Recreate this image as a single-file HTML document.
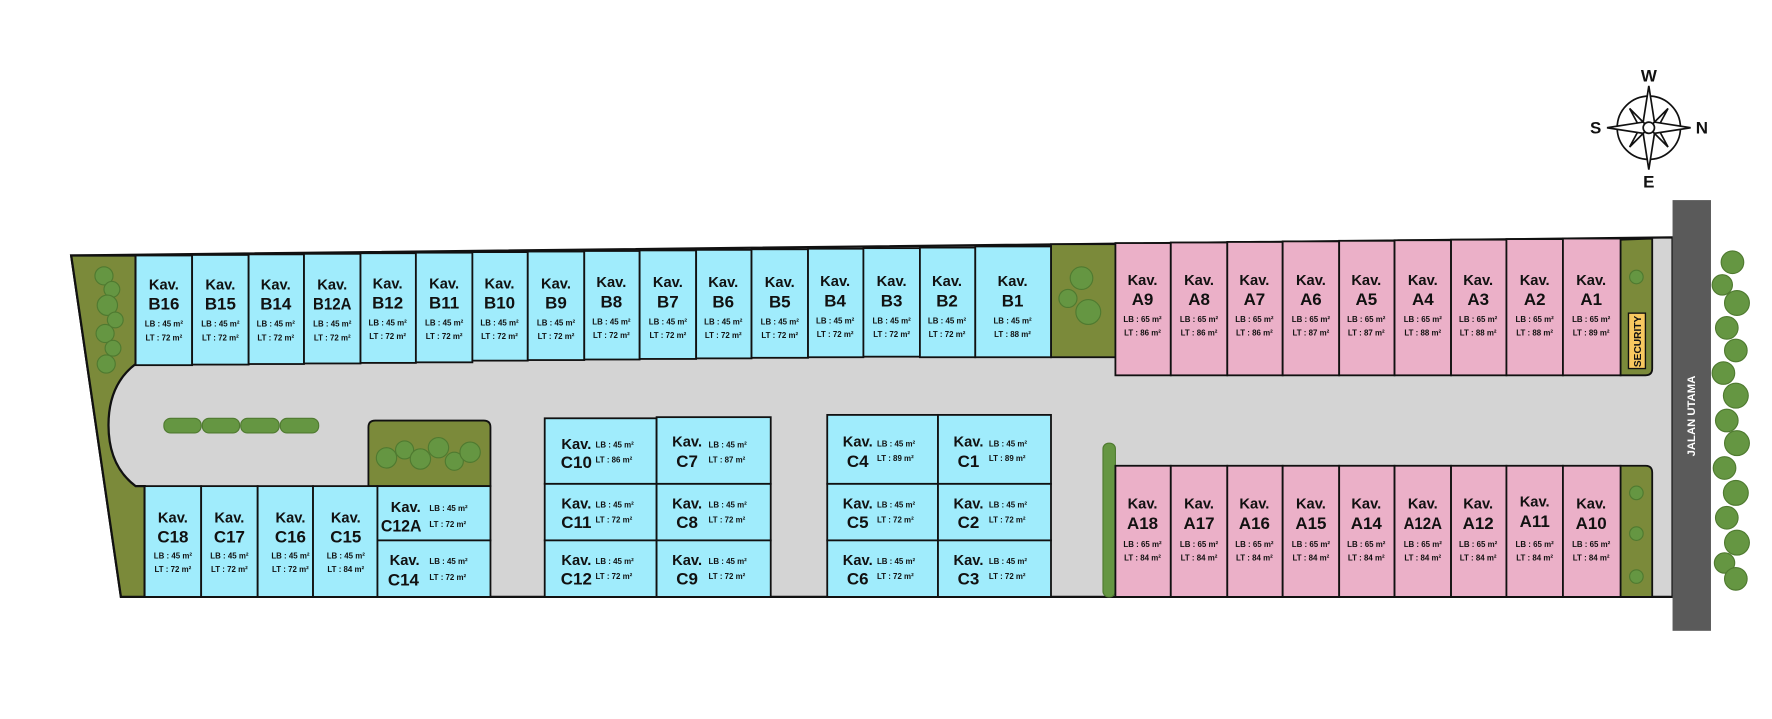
<!DOCTYPE html>
<html><head><meta charset="utf-8"><style>
html,body{margin:0;padding:0;background:#fff;}
svg{display:block;}
text{font-family:"Liberation Sans Narrow","Liberation Sans",sans-serif;font-weight:bold;fill:#111;}
.k{font-size:13px;text-anchor:middle;}
.i{font-size:15px;text-anchor:middle;}
.s{font-size:7px;text-anchor:middle;}
.l{font-size:7px;}
.b rect,rect.b{fill:#a0ecfc;stroke:#111;stroke-width:1.6;}
.p rect,rect.p{fill:#ebb0c8;stroke:#111;stroke-width:1.6;}
.tr circle{fill:#659642;stroke:#4f7a30;stroke-width:1;}
</style></head><body>
<svg width="1772" height="719" viewBox="0 0 1568 636" preserveAspectRatio="none" xmlns="http://www.w3.org/2000/svg">
<polygon points="63,226 1480,210 1480,528 107,528" fill="#d4d4d4" stroke="#111" stroke-width="2"/>
<path d="M63,226 L120,226 L120,322 Q96,340 96,376 Q96,412 120,430 L128,430 L128,528 L107,528 Z" fill="#7b8a3a" stroke="#111" stroke-width="2"/>
<rect x="930" y="216" width="57" height="100" fill="#7b8a3a" stroke="#111" stroke-width="1.6"/>
<path d="M326,430 L326,378 Q326,372 332,372 L428,372 Q434,372 434,378 L434,430 Z" fill="#7b8a3a" stroke="#111" stroke-width="1.6"/>
<path d="M1434,212 L1462,211 L1462,326 Q1462,332 1456,332 L1434,332 Z" fill="#7b8a3a" stroke="#111" stroke-width="1.6"/>
<path d="M1434,528 L1434,412 L1456,412 Q1462,412 1462,418 L1462,528 Z" fill="#7b8a3a" stroke="#111" stroke-width="1.6"/>
<rect x="1441" y="277" width="15" height="49" fill="#f8c860" stroke="#111" stroke-width="1.2"/>
<text transform="translate(1452,302) rotate(-90)" style="font-size:9px;text-anchor:middle;">SECURITY</text>
<rect x="1480" y="177" width="34" height="381" fill="#5a5a5a"/>
<text transform="translate(1500,368) rotate(-90)" style="font-size:10px;text-anchor:middle;fill:#fff;">JALAN UTAMA</text>

<g class="tr">
<circle cx="92" cy="244" r="8"/><circle cx="99" cy="256" r="7"/><circle cx="95" cy="270" r="9"/><circle cx="102" cy="283" r="7"/><circle cx="93" cy="295" r="8"/><circle cx="100" cy="308" r="7"/><circle cx="94" cy="322" r="8"/>
<circle cx="957" cy="246" r="10"/><circle cx="945" cy="264" r="8"/><circle cx="963" cy="276" r="11"/>
<circle cx="342" cy="405" r="9"/><circle cx="358" cy="398" r="8"/><circle cx="372" cy="406" r="9"/><circle cx="388" cy="396" r="9"/><circle cx="402" cy="408" r="8"/><circle cx="416" cy="400" r="9"/>
<circle cx="1448" cy="245" r="6"/><circle cx="1448" cy="436" r="6"/><circle cx="1448" cy="472" r="6"/><circle cx="1448" cy="510" r="6"/>
</g>
<g fill="#659642" stroke="#4f7a30">
<rect x="145" y="370" width="33" height="13" rx="6"/><rect x="179" y="370" width="33" height="13" rx="6"/><rect x="213" y="370" width="34" height="13" rx="6"/><rect x="248" y="370" width="34" height="13" rx="6"/>
<rect x="976" y="392" width="11" height="136" rx="5"/>
</g>
<g class="tr">
<circle cx="1533" cy="232" r="10"/><circle cx="1524" cy="252" r="9"/><circle cx="1537" cy="268" r="11"/><circle cx="1528" cy="290" r="10"/><circle cx="1536" cy="310" r="10"/><circle cx="1525" cy="330" r="10"/><circle cx="1536" cy="350" r="11"/><circle cx="1528" cy="372" r="10"/><circle cx="1537" cy="392" r="11"/><circle cx="1526" cy="414" r="10"/><circle cx="1536" cy="436" r="11"/><circle cx="1528" cy="458" r="10"/><circle cx="1537" cy="480" r="11"/><circle cx="1526" cy="498" r="9"/><circle cx="1536" cy="512" r="10"/>
</g>

<g class="b">
<rect x="120" y="226" width="50" height="97"/><rect x="170" y="225.5" width="50" height="97"/><rect x="220" y="225" width="49" height="97"/><rect x="269" y="224.5" width="50" height="97"/><rect x="319" y="224" width="49" height="97"/><rect x="368" y="223.5" width="50" height="97"/><rect x="418" y="223" width="49" height="96"/><rect x="467" y="222.5" width="50" height="96"/><rect x="517" y="222" width="49" height="96"/><rect x="566" y="221.5" width="50" height="96"/><rect x="616" y="221" width="49" height="96"/><rect x="665" y="220.5" width="50" height="96"/><rect x="715" y="220" width="49" height="96"/><rect x="764" y="219.5" width="50" height="96"/><rect x="814" y="219" width="49" height="97"/><rect x="863" y="218" width="67" height="98"/>
</g>
<g>
<text class="k" x="145" y="256">Kav.</text><text class="i" x="145" y="274">B16</text><text class="s" x="145" y="289">LB : 45 m²</text><text class="s" x="145" y="301">LT : 72 m²</text>
<text class="k" x="195" y="256">Kav.</text><text class="i" x="195" y="274">B15</text><text class="s" x="195" y="289">LB : 45 m²</text><text class="s" x="195" y="301">LT : 72 m²</text>
<text class="k" x="244" y="256">Kav.</text><text class="i" x="244" y="274">B14</text><text class="s" x="244" y="289">LB : 45 m²</text><text class="s" x="244" y="301">LT : 72 m²</text>
<text class="k" x="294" y="256">Kav.</text><text class="i" x="294" y="274" textLength="34" lengthAdjust="spacingAndGlyphs">B12A</text><text class="s" x="294" y="289">LB : 45 m²</text><text class="s" x="294" y="301">LT : 72 m²</text>
<text class="k" x="343" y="255">Kav.</text><text class="i" x="343" y="273">B12</text><text class="s" x="343" y="288">LB : 45 m²</text><text class="s" x="343" y="300">LT : 72 m²</text>
<text class="k" x="393" y="255">Kav.</text><text class="i" x="393" y="273">B11</text><text class="s" x="393" y="288">LB : 45 m²</text><text class="s" x="393" y="300">LT : 72 m²</text>
<text class="k" x="442" y="255">Kav.</text><text class="i" x="442" y="273">B10</text><text class="s" x="442" y="288">LB : 45 m²</text><text class="s" x="442" y="300">LT : 72 m²</text>
<text class="k" x="492" y="255">Kav.</text><text class="i" x="492" y="273">B9</text><text class="s" x="492" y="288">LB : 45 m²</text><text class="s" x="492" y="300">LT : 72 m²</text>
<text class="k" x="541" y="254">Kav.</text><text class="i" x="541" y="272">B8</text><text class="s" x="541" y="287">LB : 45 m²</text><text class="s" x="541" y="299">LT : 72 m²</text>
<text class="k" x="591" y="254">Kav.</text><text class="i" x="591" y="272">B7</text><text class="s" x="591" y="287">LB : 45 m²</text><text class="s" x="591" y="299">LT : 72 m²</text>
<text class="k" x="640" y="254">Kav.</text><text class="i" x="640" y="272">B6</text><text class="s" x="640" y="287">LB : 45 m²</text><text class="s" x="640" y="299">LT : 72 m²</text>
<text class="k" x="690" y="254">Kav.</text><text class="i" x="690" y="272">B5</text><text class="s" x="690" y="287">LB : 45 m²</text><text class="s" x="690" y="299">LT : 72 m²</text>
<text class="k" x="739" y="253">Kav.</text><text class="i" x="739" y="271">B4</text><text class="s" x="739" y="286">LB : 45 m²</text><text class="s" x="739" y="298">LT : 72 m²</text>
<text class="k" x="789" y="253">Kav.</text><text class="i" x="789" y="271">B3</text><text class="s" x="789" y="286">LB : 45 m²</text><text class="s" x="789" y="298">LT : 72 m²</text>
<text class="k" x="838" y="253">Kav.</text><text class="i" x="838" y="271">B2</text><text class="s" x="838" y="286">LB : 45 m²</text><text class="s" x="838" y="298">LT : 72 m²</text>
<text class="k" x="896" y="253">Kav.</text><text class="i" x="896" y="271">B1</text><text class="s" x="896" y="286">LB : 45 m²</text><text class="s" x="896" y="298">LT : 88 m²</text>
</g>

<g class="p">
<rect x="987" y="215" width="49" height="117"/><rect x="1036" y="214.5" width="50" height="117.5"/><rect x="1086" y="214" width="49" height="118"/><rect x="1135" y="213.5" width="50" height="118.5"/><rect x="1185" y="213" width="49" height="119"/><rect x="1234" y="212.5" width="50" height="119.5"/><rect x="1284" y="212" width="49" height="120"/><rect x="1333" y="211.5" width="50" height="120.5"/><rect x="1383" y="211" width="51" height="121"/>
</g>
<g>
<text class="k" x="1011" y="252">Kav.</text><text class="i" x="1011" y="270">A9</text><text class="s" x="1011" y="285">LB : 65 m²</text><text class="s" x="1011" y="297">LT : 86 m²</text>
<text class="k" x="1061" y="252">Kav.</text><text class="i" x="1061" y="270">A8</text><text class="s" x="1061" y="285">LB : 65 m²</text><text class="s" x="1061" y="297">LT : 86 m²</text>
<text class="k" x="1110" y="252">Kav.</text><text class="i" x="1110" y="270">A7</text><text class="s" x="1110" y="285">LB : 65 m²</text><text class="s" x="1110" y="297">LT : 86 m²</text>
<text class="k" x="1160" y="252">Kav.</text><text class="i" x="1160" y="270">A6</text><text class="s" x="1160" y="285">LB : 65 m²</text><text class="s" x="1160" y="297">LT : 87 m²</text>
<text class="k" x="1209" y="252">Kav.</text><text class="i" x="1209" y="270">A5</text><text class="s" x="1209" y="285">LB : 65 m²</text><text class="s" x="1209" y="297">LT : 87 m²</text>
<text class="k" x="1259" y="252">Kav.</text><text class="i" x="1259" y="270">A4</text><text class="s" x="1259" y="285">LB : 65 m²</text><text class="s" x="1259" y="297">LT : 88 m²</text>
<text class="k" x="1308" y="252">Kav.</text><text class="i" x="1308" y="270">A3</text><text class="s" x="1308" y="285">LB : 65 m²</text><text class="s" x="1308" y="297">LT : 88 m²</text>
<text class="k" x="1358" y="252">Kav.</text><text class="i" x="1358" y="270">A2</text><text class="s" x="1358" y="285">LB : 65 m²</text><text class="s" x="1358" y="297">LT : 88 m²</text>
<text class="k" x="1408" y="252">Kav.</text><text class="i" x="1408" y="270">A1</text><text class="s" x="1408" y="285">LB : 65 m²</text><text class="s" x="1408" y="297">LT : 89 m²</text>
</g>

<g class="p">
<rect x="987" y="412" width="49" height="116"/><rect x="1036" y="412" width="50" height="116"/><rect x="1086" y="412" width="49" height="116"/><rect x="1135" y="412" width="50" height="116"/><rect x="1185" y="412" width="49" height="116"/><rect x="1234" y="412" width="50" height="116"/><rect x="1284" y="412" width="49" height="116"/><rect x="1333" y="412" width="50" height="116"/><rect x="1383" y="412" width="51" height="116"/>
</g>
<g>
<text class="k" x="1011" y="450">Kav.</text><text class="i" x="1011" y="468">A18</text><text class="s" x="1011" y="484">LB : 65 m²</text><text class="s" x="1011" y="496">LT : 84 m²</text>
<text class="k" x="1061" y="450">Kav.</text><text class="i" x="1061" y="468">A17</text><text class="s" x="1061" y="484">LB : 65 m²</text><text class="s" x="1061" y="496">LT : 84 m²</text>
<text class="k" x="1110" y="450">Kav.</text><text class="i" x="1110" y="468">A16</text><text class="s" x="1110" y="484">LB : 65 m²</text><text class="s" x="1110" y="496">LT : 84 m²</text>
<text class="k" x="1160" y="450">Kav.</text><text class="i" x="1160" y="468">A15</text><text class="s" x="1160" y="484">LB : 65 m²</text><text class="s" x="1160" y="496">LT : 84 m²</text>
<text class="k" x="1209" y="450">Kav.</text><text class="i" x="1209" y="468">A14</text><text class="s" x="1209" y="484">LB : 65 m²</text><text class="s" x="1209" y="496">LT : 84 m²</text>
<text class="k" x="1259" y="450">Kav.</text><text class="i" x="1259" y="468" textLength="34" lengthAdjust="spacingAndGlyphs">A12A</text><text class="s" x="1259" y="484">LB : 65 m²</text><text class="s" x="1259" y="496">LT : 84 m²</text>
<text class="k" x="1308" y="450">Kav.</text><text class="i" x="1308" y="468">A12</text><text class="s" x="1308" y="484">LB : 65 m²</text><text class="s" x="1308" y="496">LT : 84 m²</text>
<text class="k" x="1358" y="448">Kav.</text><text class="i" x="1358" y="466">A11</text><text class="s" x="1358" y="484">LB : 65 m²</text><text class="s" x="1358" y="496">LT : 84 m²</text>
<text class="k" x="1408" y="450">Kav.</text><text class="i" x="1408" y="468">A10</text><text class="s" x="1408" y="484">LB : 65 m²</text><text class="s" x="1408" y="496">LT : 84 m²</text>
</g>

<g class="b">
<rect x="128" y="430" width="50" height="98"/><rect x="178" y="430" width="50" height="98"/><rect x="228" y="430" width="49" height="98"/><rect x="277" y="430" width="57" height="98"/>
<rect x="334" y="430" width="100" height="48"/><rect x="334" y="478" width="100" height="50"/>
</g>
<g>
<text class="k" x="153" y="462">Kav.</text><text class="i" x="153" y="480">C18</text><text class="s" x="153" y="494">LB : 45 m²</text><text class="s" x="153" y="506">LT : 72 m²</text>
<text class="k" x="203" y="462">Kav.</text><text class="i" x="203" y="480">C17</text><text class="s" x="203" y="494">LB : 45 m²</text><text class="s" x="203" y="506">LT : 72 m²</text>
<text class="k" x="257" y="462">Kav.</text><text class="i" x="257" y="480">C16</text><text class="s" x="257" y="494">LB : 45 m²</text><text class="s" x="257" y="506">LT : 72 m²</text>
<text class="k" x="306" y="462">Kav.</text><text class="i" x="306" y="480">C15</text><text class="s" x="306" y="494">LB : 45 m²</text><text class="s" x="306" y="506">LT : 84 m²</text>
<text class="k" x="359" y="453">Kav.</text><text class="i" x="355" y="470" textLength="36" lengthAdjust="spacingAndGlyphs">C12A</text><text class="l" x="380" y="452">LB : 45 m²</text><text class="l" x="380" y="466">LT : 72 m²</text>
<text class="k" x="358" y="500">Kav.</text><text class="i" x="357" y="518">C14</text><text class="l" x="380" y="499">LB : 45 m²</text><text class="l" x="380" y="513">LT : 72 m²</text>
</g>

<g class="b">
<rect x="482" y="370" width="99" height="58"/><rect x="581" y="369" width="101" height="59"/>
<rect x="482" y="428" width="99" height="50"/><rect x="581" y="428" width="101" height="50"/>
<rect x="482" y="478" width="99" height="50"/><rect x="581" y="478" width="101" height="50"/>
<rect x="732" y="367" width="98" height="61"/><rect x="830" y="367" width="100" height="61"/>
<rect x="732" y="428" width="98" height="50"/><rect x="830" y="428" width="100" height="50"/>
<rect x="732" y="478" width="98" height="50"/><rect x="830" y="478" width="100" height="50"/>
</g>
<g>
<text class="k" x="510" y="397">Kav.</text><text class="i" x="510" y="414">C10</text><text class="l" x="527" y="396">LB : 45 m²</text><text class="l" x="527" y="409">LT : 86 m²</text>
<text class="k" x="608" y="395">Kav.</text><text class="i" x="608" y="413">C7</text><text class="l" x="627" y="396">LB : 45 m²</text><text class="l" x="627" y="409">LT : 87 m²</text>
<text class="k" x="510" y="450">Kav.</text><text class="i" x="510" y="467">C11</text><text class="l" x="527" y="449">LB : 45 m²</text><text class="l" x="527" y="462">LT : 72 m²</text>
<text class="k" x="608" y="450">Kav.</text><text class="i" x="608" y="467">C8</text><text class="l" x="627" y="449">LB : 45 m²</text><text class="l" x="627" y="462">LT : 72 m²</text>
<text class="k" x="510" y="500">Kav.</text><text class="i" x="510" y="517">C12</text><text class="l" x="527" y="499">LB : 45 m²</text><text class="l" x="527" y="512">LT : 72 m²</text>
<text class="k" x="608" y="500">Kav.</text><text class="i" x="608" y="517">C9</text><text class="l" x="627" y="499">LB : 45 m²</text><text class="l" x="627" y="512">LT : 72 m²</text>
<text class="k" x="759" y="395">Kav.</text><text class="i" x="759" y="413">C4</text><text class="l" x="776" y="395">LB : 45 m²</text><text class="l" x="776" y="408">LT : 89 m²</text>
<text class="k" x="857" y="395">Kav.</text><text class="i" x="857" y="413">C1</text><text class="l" x="875" y="395">LB : 45 m²</text><text class="l" x="875" y="408">LT : 89 m²</text>
<text class="k" x="759" y="450">Kav.</text><text class="i" x="759" y="467">C5</text><text class="l" x="776" y="449">LB : 45 m²</text><text class="l" x="776" y="462">LT : 72 m²</text>
<text class="k" x="857" y="450">Kav.</text><text class="i" x="857" y="467">C2</text><text class="l" x="875" y="449">LB : 45 m²</text><text class="l" x="875" y="462">LT : 72 m²</text>
<text class="k" x="759" y="500">Kav.</text><text class="i" x="759" y="517">C6</text><text class="l" x="776" y="499">LB : 45 m²</text><text class="l" x="776" y="512">LT : 72 m²</text>
<text class="k" x="857" y="500">Kav.</text><text class="i" x="857" y="517">C3</text><text class="l" x="875" y="499">LB : 45 m²</text><text class="l" x="875" y="512">LT : 72 m²</text>
</g>

<g fill="#fff" stroke="#111" stroke-width="1.5">
<circle cx="1459" cy="113" r="28" fill="none"/>
<polygon points="1459,113 1442,96 1449,109"/><polygon points="1459,113 1476,96 1469,109"/>
<polygon points="1459,113 1442,130 1449,117"/><polygon points="1459,113 1476,130 1469,117"/>
<polygon points="1459,76 1464,108 1459,113 1454,108"/><polygon points="1459,150 1464,118 1459,113 1454,118"/>
<polygon points="1422,113 1454,108 1459,113 1454,118"/><polygon points="1496,113 1464,108 1459,113 1464,118"/>
<circle cx="1459" cy="113" r="5"/>
</g>
<text x="1459" y="72" style="font-family:'Liberation Sans',sans-serif;font-size:15px;text-anchor:middle;">W</text>
<text x="1459" y="166" style="font-family:'Liberation Sans',sans-serif;font-size:15px;text-anchor:middle;">E</text>
<text x="1412" y="118" style="font-family:'Liberation Sans',sans-serif;font-size:15px;text-anchor:middle;">S</text>
<text x="1506" y="118" style="font-family:'Liberation Sans',sans-serif;font-size:15px;text-anchor:middle;">N</text>
</svg>
</body></html>
